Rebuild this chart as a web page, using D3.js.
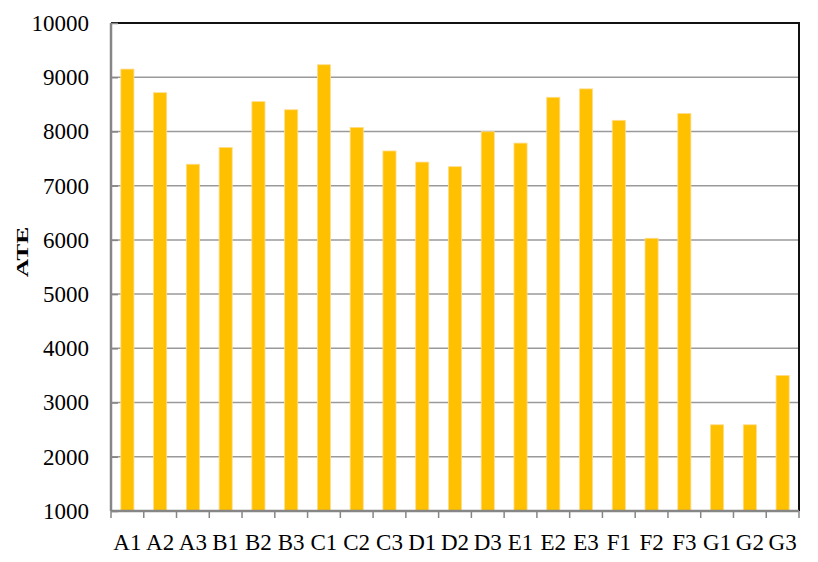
<!DOCTYPE html>
<html>
<head>
<meta charset="utf-8">
<script src="https://cdn.jsdelivr.net/npm/d3@7"></script>
<style>
  body { margin: 0; background: #fff; }
  svg { display: block; }
  svg text { font-family: "Liberation Serif", "Times New Roman", serif; }
</style>
</head>
<body>
<div id="vis"></div>
<script>
// categories and ATE values
var categories = ["A1", "A2", "A3", "B1", "B2", "B3", "C1", "C2", "C3", "D1", "D2", "D3",
                  "E1", "E2", "E3", "F1", "F2", "F3", "G1", "G2", "G3"];
var ateValues = [9150, 8715, 7395, 7705, 8550, 8400, 9230, 8075, 7640, 7435, 7350, 7995,
                 7785, 8630, 8785, 8205, 6030, 8330, 2590, 2590, 3500];
var yTicks = [1000, 2000, 3000, 4000, 5000, 6000, 7000, 8000, 9000, 10000];

var width = 818, height = 562;
var margin = {top: 23, right: 19, bottom: 51, left: 111};
var innerW = width - margin.left - margin.right,
    innerH = height - margin.top - margin.bottom;

var svg = d3.select("#vis").append("svg")
    .attr("width", width)
    .attr("height", height);

var g = svg.append("g")
    .attr("transform", "translate(" + margin.left + "," + margin.top + ")");

var x = d3.scaleBand()
    .domain(categories)
    .range([0, innerW])
    .paddingInner(0.6)
    .paddingOuter(0.3);

// boundaries between categories, for the tick marks
var xEdge = d3.scaleLinear().domain([0, categories.length]).range([0, innerW]);

var y = d3.scaleLinear()
    .domain([1000, 10000])
    .range([innerH, 0]);

// gridlines
g.append("g")
  .selectAll("line")
  .data(yTicks.slice(1, -1))
  .enter().append("line")
    .attr("x1", 0).attr("x2", innerW)
    .attr("y1", function(d) { return y(d); })
    .attr("y2", function(d) { return y(d); })
    .style("stroke", "#9a9a9a")
    .style("stroke-width", 1.5);

// top and right border
g.append("path")
  .attr("d", "M0," + y(10000) + "H" + innerW + "V" + innerH)
  .style("fill", "none")
  .style("stroke", "#111")
  .style("stroke-width", 2);

// bars
g.append("g")
  .selectAll("rect")
  .data(ateValues)
  .enter().append("rect")
    .attr("x", function(d, i) { return x(categories[i]); })
    .attr("y", function(d) { return y(d); })
    .attr("width", x.bandwidth())
    .attr("height", function(d) { return innerH - y(d); })
    .style("fill", "#ffc000")
    .style("stroke", "#ffdc8c")
    .style("stroke-width", 0.8);

// y axis
var yAxis = d3.axisLeft(y)
    .tickValues(yTicks)
    .tickSize(-7)
    .tickPadding(22)
    .tickFormat(d3.format("d"));

var yg = g.append("g").call(yAxis)
    .attr("font-family", null)
    .attr("font-size", null);
yg.select(".domain").remove();
yg.selectAll(".tick line").style("stroke", "#868686").style("stroke-width", 1.5);
yg.selectAll("text").style("font-size", "23px").style("fill", "#000");
yg.append("line")
  .attr("x1", 0).attr("x2", 0)
  .attr("y1", 0).attr("y2", innerH)
  .style("stroke", "#868686")
  .style("stroke-width", 2.5);

// x axis
var xg = g.append("g")
    .attr("transform", "translate(0," + innerH + ")");

xg.append("line")
  .attr("x1", 0).attr("x2", innerW)
  .style("stroke", "#868686")
  .style("stroke-width", 2.5);

xg.selectAll(".edge")
  .data(d3.range(categories.length + 1))
  .enter().append("line")
    .attr("class", "edge")
    .attr("x1", function(d) { return xEdge(d); })
    .attr("x2", function(d) { return xEdge(d); })
    .attr("y1", 0).attr("y2", 7)
    .style("stroke", "#868686")
    .style("stroke-width", 1.5);

xg.selectAll(".lab")
  .data(categories)
  .enter().append("text")
    .attr("class", "lab")
    .attr("x", function(d) { return x(d) + x.bandwidth() / 2; })
    .attr("y", 39)
    .attr("text-anchor", "middle")
    .style("font-size", "23px")
    .text(function(d) { return d; });

// y axis title (glyphs look stretched along the text in the original)
svg.append("text")
  .attr("transform", "translate(28,252) rotate(-90) scale(1.5,1)")
  .attr("text-anchor", "middle")
  .style("font-size", "17px")
  .style("font-weight", "bold")
  .text("ATE");
</script>
</body>
</html>
